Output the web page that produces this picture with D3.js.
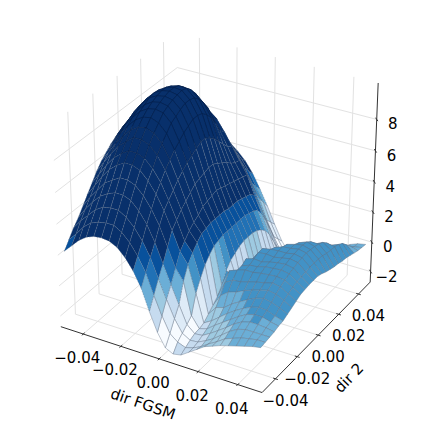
<!DOCTYPE html>
<html>
<head>
<meta charset="utf-8">
<script src="https://cdn.jsdelivr.net/npm/d3@7"></script>
<style>
html,body{margin:0;padding:0;background:#fff;}
text{font-family:"DejaVu Sans";font-size:15px;fill:#000;}
</style>
</head>
<body>
<svg id="plot" width="424" height="424"></svg>
<script>
//Axis ticks and limits
const xTicks = [-0.04,-0.02,0,0.02,0.04];
const yTicks = [-0.04,-0.02,0,0.02,0.04];
const zTicks = [-2,0,2,4,6,8];
const xLim = [-0.05,0.05];
const yLim = [-0.05,0.05];
const zLim = [-2.46,10.02];

//Height bands: left hump and right lobe of the surface are read separately
const humpBands = [-1.2,-.2,.6,1.0,1.4,1.8,2.3,3.0];
const lobeBands = [-2.3,-2.15,-1.4,-.5,.35,9,10,11];

//Loss values, one row per dir 2 step, one column per dir FGSM step
const zValues = [
[2.2,2.7,3.2,3.55,3.75,3.8,3.75,3.5,3.0,2.3,1.35,0,-1.2,-2.05,-2.3,-2.2,-1.85,-1.5,-1.15,-.95,-.75,-.6,-.45,-.3,-.15,-.05],
[2.7,3.2,3.8,4.2,4.4,4.5,4.5,4.2,3.7,3.0,2.1,.8,-.4,-1.4,-1.8,-2.0,-1.85,-1.6,-1.25,-.95,-.6,-.4,-.2,-.1,0,0],
[3.2,3.8,4.3,4.8,5.1,5.2,5.2,4.9,4.4,3.7,2.8,1.6,.4,-.7,-1.5,-1.8,-1.75,-1.5,-1.2,-.8,-.4,-.1,.05,.05,.05,.05],
[3.6,4.3,4.9,5.4,5.7,5.9,5.9,5.7,5.2,4.5,3.5,2.3,1.1,-.05,-1.2,-1.65,-1.6,-1.3,-.95,-.6,-.2,.1,.25,.25,.2,.1],
[4.1,4.8,5.4,6.0,6.3,6.6,6.6,6.4,5.9,5.2,4.3,3.1,1.9,1.2,-.9,-1.6,-1.45,-1.05,-.7,-.35,0,.3,.45,.45,.3,.2],
[4.6,5.3,6.0,6.6,7.0,7.3,7.3,7.1,6.6,5.9,5.0,3.9,2.7,2.0,.3,-1.5,-1.2,-.8,-.4,-.05,.25,.5,.65,.6,.4,.25],
[5.1,5.8,6.5,7.1,7.5,7.8,7.8,7.6,7.1,6.4,5.4,4.3,3.1,2.5,1.0,-1.2,-.6,-.45,-.05,.25,.55,.8,.95,.85,.65,.4],
[5.6,6.3,7.0,7.6,8.0,8.4,8.4,8.2,7.7,6.9,5.8,4.7,3.5,2.9,1.6,-.9,-.1,.3,.45,.7,.9,1.05,1.2,1.1,.85,.55],
[6.0,6.7,7.4,8.0,8.5,8.8,8.9,8.7,8.2,7.3,6.2,5.0,3.8,3.2,2.0,-.6,.5,.8,.85,1.0,1.15,1.25,1.4,1.3,1.0,.7],
[6.3,7.1,7.8,8.4,8.9,9.2,9.3,9.1,8.6,7.7,6.5,5.3,4.0,3.3,2.3,-.1,1.0,1.2,1.35,1.35,1.45,1.5,1.55,1.45,1.15,.85],
[6.6,7.4,8.1,8.7,9.2,9.5,9.6,9.5,9.0,8.0,6.8,5.6,4.3,3.4,2.4,.6,.3,1.2,1.4,1.45,1.6,1.65,1.7,1.6,1.25,.9],
[6.8,7.6,8.3,8.9,9.4,9.7,9.8,9.7,9.2,8.3,7.0,5.7,4.4,3.4,2.5,1.0,-.4,1.4,1.55,1.5,1.65,1.75,1.8,1.7,1.3,.95],
[6.9,7.7,8.5,9.1,9.6,9.85,9.95,9.85,9.4,8.5,7.2,5.8,4.5,3.4,2.5,1.2,-.9,1.0,1.7,1.75,1.7,1.8,1.9,1.8,1.35,.95],
[6.9,7.8,8.6,9.2,9.7,9.95,10.05,9.95,9.55,8.7,7.4,5.9,4.6,3.4,2.5,1.4,-.5,-.4,1.7,1.8,1.85,1.85,1.95,1.85,1.4,.95],
[6.8,7.7,8.5,9.15,9.65,9.95,10.05,10,9.55,8.7,7.4,5.9,4.5,3.3,2.5,1.5,-.2,-1.3,.9,1.65,1.85,1.9,2.0,1.9,1.4,.85],
[6.6,7.5,8.3,8.95,9.45,9.8,9.95,9.9,9.45,8.6,7.2,5.7,4.4,3.3,2.5,1.5,-.2,-1.5,-.3,1.0,1.75,1.9,2.0,1.85,1.4,.7],
[6.4,7.2,8.0,8.65,9.15,9.5,9.65,9.6,9.15,8.3,6.9,5.5,4.3,3.3,2.5,1.5,-.2,-1.55,-.9,.3,1.2,1.75,1.95,1.8,1.35,.6],
[6.1,6.9,7.6,8.25,8.7,9.05,9.2,9.15,8.7,7.9,6.5,5.3,4.2,3.2,2.4,1.4,-.3,-1.6,-1.3,-.4,.6,1.3,1.7,1.7,1.25,.5],
[5.7,6.5,7.2,7.75,8.2,8.5,8.6,8.55,8.15,7.3,6.1,5.0,4.1,3.1,2.3,1.2,-.4,-1.65,-1.6,-.9,0,.7,1.3,1.55,1.2,.45],
[5.3,5.9,6.5,7.1,7.5,7.8,7.9,7.7,7.3,6.6,5.7,4.8,4.0,3.0,2.1,.9,-.6,-1.7,-1.75,-1.3,-.5,.1,.8,1.25,1.15,.35],
[5.0,5.6,6.2,6.8,7.2,7.5,7.6,7.4,7.0,6.3,5.5,4.7,3.9,2.7,1.6,.4,-.8,-1.8,-1.85,-1.6,-1.0,-.4,.2,.85,1.05,.3],
[4.4,5.0,5.6,6.0,6.45,6.7,6.8,6.6,6.2,5.5,4.75,3.9,3.1,1.9,.9,-.3,-1.3,-1.9,-1.9,-1.75,-1.3,-.8,-.25,.35,.85,.2],
[3.8,4.3,4.9,5.4,5.7,5.9,6.0,5.8,5.4,4.8,4.0,3.2,2.3,1.1,.1,-1.0,-1.7,-2.1,-2.0,-1.8,-1.5,-1.1,-.6,-.1,.5,.1],
[3.3,3.8,4.3,4.8,5.1,5.2,5.3,5.1,4.7,4.1,3.4,2.5,1.6,.3,-.7,-1.6,-2.1,-2.2,-2.0,-1.8,-1.5,-1.2,-.85,-.4,.15,0],
[2.9,3.4,3.9,4.3,4.6,4.7,4.7,4.5,4.1,3.6,2.9,2.0,1.1,-.1,-1.1,-1.95,-2.25,-2.2,-1.9,-1.7,-1.4,-1.1,-.8,-.5,-.15,-.05],
[2.5,3.0,3.5,3.9,4.2,4.3,4.3,4.1,3.7,3.2,2.5,1.6,.6,-.5,-1.5,-2.2,-2.4,-2.2,-1.8,-1.6,-1.3,-1.0,-.7,-.4,-.2,-.1]
];

//Scales from data to the unit cube
const xScale = d3.scaleLinear().domain(xLim).range([0,1]);
const yScale = d3.scaleLinear().domain(yLim).range([0,1]);
const zScale = d3.scaleLinear().domain(zLim).range([0,1]);
const xGrid = d3.scaleLinear().domain([0,zValues[0].length-1]).range(xLim);
const yGrid = d3.scaleLinear().domain([0,zValues.length-1]).range(yLim);

//Blue colors by height band
const humpColor = d3.scaleThreshold().domain(humpBands).range(d3.schemeBlues[9]);
const lobeColor = d3.scaleThreshold().domain(lobeBands).range(d3.schemeBlues[9]);

//Camera, same numbers as the default elev 30, azim -60 view
const dist = 10;
const scale = 223;
const cx = 218;
const cy = 206;
const uVec = [0.866,0.5,0];
const vVec = [-0.25,0.433,0.866];
const wVec = [0.433,-0.75,0.5];
const dot = (a,b)=>a[0]*b[0]+a[1]*b[1]+a[2]*b[2];

//Project a point of the unit cube to the page
function project(p){
    const q = [p[0]-0.5,p[1]-0.5,p[2]-0.5];
    const f = dist/(dist-dot(q,wVec));
    return [cx+scale*f*dot(q,uVec),cy-scale*f*dot(q,vVec),dot(q,wVec)];
}

const svg = d3.select("#plot");
const line = d3.line();

//Panes stick out a bit from the limits
const lo = -1/48;
const hi = 49/48;

function draw3d(points,stroke,width){
    svg.append("path")
        .attr("d",line(points.map(project).map(p=>[p[0],p[1]])))
        .attr("fill","none")
        .attr("stroke",stroke)
        .attr("stroke-width",width);
}

//Grid on floor and the two back panes
const gridColor = "#e2e2e2";
xTicks.forEach(function(d){
    const x = xScale(d);
    draw3d([[x,lo,lo],[x,hi,lo],[x,hi,hi]],gridColor,1);
});
yTicks.forEach(function(d){
    const y = yScale(d);
    draw3d([[hi,y,lo],[lo,y,lo],[lo,y,hi]],gridColor,1);
});
zTicks.forEach(function(d){
    const z = zScale(d);
    draw3d([[lo,lo,z],[lo,hi,z],[hi,hi,z]],gridColor,1);
});

//Build the surface cells and sort them back to front
const cells = [];
for(let r=0;r<zValues.length-1;r++){
    const valley = d3.leastIndex(zValues[r]);
    for(let c=0;c<zValues[r].length-1;c++){
        const corners = [[c,r],[c+1,r],[c+1,r+1],[c,r+1]].map(function(k){
            return project([xScale(xGrid(k[0])),yScale(yGrid(k[1])),zScale(zValues[k[1]][k[0]])]);
        });
        const meanZ = d3.mean([zValues[r][c],zValues[r][c+1],zValues[r+1][c],zValues[r+1][c+1]]);
        cells.push({corners:corners,meanZ:meanZ,lobe:c>=valley,depth:d3.mean(corners,(p)=>p[2])});
    }
}
cells.sort((a,b)=>d3.ascending(a.depth,b.depth));

svg.selectAll(".cell")
    .data(cells)
    .enter()
    .append("path")
    .attr("class","cell")
    .attr("d",(d)=>line(d.corners.map(p=>[p[0],p[1]]))+"Z")
    .attr("fill",(d)=>d.lobe?lobeColor(d.meanZ):humpColor(d.meanZ))
    .attr("stroke",(d)=>d.meanZ>7.2?"#051f48":"#5f6e83")
    .attr("stroke-width",(d)=>d.meanZ>7.2?0.5:0.4)
    .attr("stroke-linejoin","round")
    .attr("stroke-dasharray",(d)=>(d.meanZ<7.2&&d.meanZ>1&&!d.lobe)?"1.6 1.2":null);

//Axis lines
const axisColor = "#333";
draw3d([[lo,lo,lo],[hi,lo,lo]],axisColor,1);
draw3d([[hi,lo,lo],[hi,hi,lo]],axisColor,1);
draw3d([[hi,hi,lo],[hi,hi,hi]],axisColor,1);

//Tick marks
const tickLen = 0.012;
xTicks.forEach((d)=>draw3d([[xScale(d),lo-tickLen,lo],[xScale(d),lo+tickLen,lo]],axisColor,1));
yTicks.forEach((d)=>draw3d([[hi-tickLen,yScale(d),lo],[hi+tickLen,yScale(d),lo]],axisColor,1));
zTicks.forEach((d)=>draw3d([[hi-tickLen,hi+tickLen,zScale(d)],[hi+tickLen,hi-tickLen,zScale(d)]],axisColor,1));

//Tick labels, real minus sign like the original
const fmt = (d)=>d3.format(".2f")(d).replace("-","\u2212");

function tickLabels(ticks,toCube,label,dx,dy){
    svg.selectAll(null)
        .data(ticks)
        .enter()
        .append("text")
        .attr("text-anchor","middle")
        .attr("dominant-baseline","central")
        .attr("x",(d)=>project(toCube(d))[0]+dx)
        .attr("y",(d)=>project(toCube(d))[1]+dy)
        .text(label);
}
tickLabels(xTicks,(d)=>[xScale(d),lo,lo],fmt,-6,24);
tickLabels(yTicks,(d)=>[hi,yScale(d),lo],fmt,10,22);
tickLabels(zTicks,(d)=>[hi,hi,zScale(d)],(d)=>String(d).replace("-","\u2212"),16,5);

//Axis titles
svg.append("text")
    .attr("text-anchor","middle")
    .attr("dominant-baseline","central")
    .attr("transform","translate(143,404) rotate(19)")
    .text("dir FGSM");
svg.append("text")
    .attr("text-anchor","middle")
    .attr("dominant-baseline","central")
    .attr("transform","translate(349,378) rotate(-46)")
    .text("dir 2");
</script>
</body>
</html>
